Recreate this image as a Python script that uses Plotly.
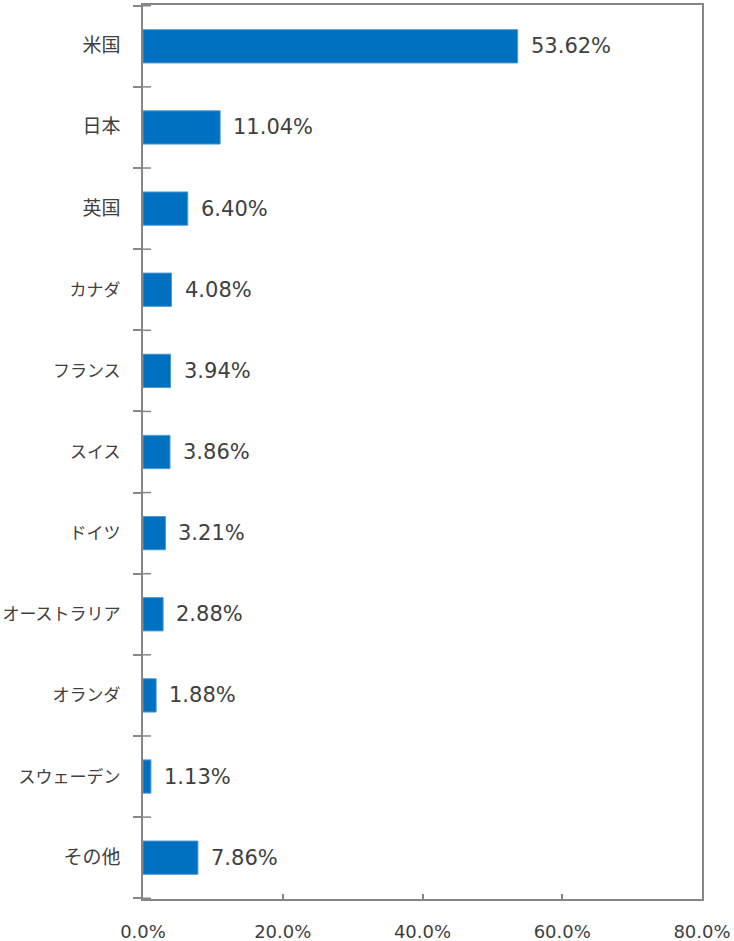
import plotly.graph_objects as go

# Country allocation (% of portfolio)
countries = ["米国", "日本", "英国", "カナダ", "フランス", "スイス", "ドイツ",
             "オーストラリア", "オランダ", "スウェーデン", "その他"]
weights = [53.62, 11.04, 6.40, 4.08, 3.94, 3.86, 3.21, 2.88, 1.88, 1.13, 7.86]
x_ticks = [0, 20, 40, 60, 80]
x_tick_labels = ["0.0%", "20.0%", "40.0%", "60.0%", "80.0%"]

AXIS = "#868686"
TEXT = "#404040"
BAR = "#0070C0"


def tick_label(name):
    # kanji names are set a little larger than the katakana ones
    if any("\u4e00" <= ch <= "\u9fff" for ch in name):
        return f'<span style="font-size:19px">{name}</span>'
    return name


fig = go.Figure(go.Bar(
    x=weights,
    y=countries,
    orientation="h",
    marker=dict(color=BAR, line=dict(color="#4a98d6", width=1)),
    width=0.41,
    hoverinfo="skip",
))

# value labels to the right of each bar
for c, v in zip(countries, weights):
    fig.add_annotation(
        x=v, y=c, text=f"{v:.2f}%", showarrow=False,
        xanchor="left", yanchor="middle", xshift=11,
        font=dict(family="DejaVu Sans", size=21, color=TEXT),
    )

# inner half of the category boundary ticks (ticks cross the axis line)
for i in range(len(countries) + 1):
    fig.add_shape(
        type="line", xref="x", yref="y",
        x0=0, x1=1.15, y0=i - 0.5, y1=i - 0.5,
        line=dict(color=AXIS, width=1.5), layer="above",
    )

fig.update_layout(
    width=734, height=941,
    margin=dict(l=143, r=32, t=5, b=42),
    paper_bgcolor="white", plot_bgcolor="white",
    showlegend=False,
    xaxis=dict(
        range=[0, 80], tickvals=x_ticks, ticktext=x_tick_labels,
        showgrid=False, zeroline=False, automargin=False,
        showline=True, linecolor=AXIS, linewidth=2, mirror=True,
        ticks="inside", ticklen=5, tickcolor=AXIS, tickwidth=1.5,
        tickfont=dict(family="DejaVu Sans", size=18, color=TEXT),
        ticklabelstandoff=15,
    ),
    yaxis=dict(
        autorange="reversed", showgrid=False, zeroline=False, automargin=False,
        tickmode="array", tickvals=countries,
        ticktext=[tick_label(c) for c in countries],
        showline=True, linecolor=AXIS, linewidth=2, mirror=True,
        ticks="outside", ticklen=8, tickcolor=AXIS, tickwidth=1.5,
        tickson="boundaries",
        tickfont=dict(family="Noto Sans CJK JP", size=17, color=TEXT),
        ticklabelstandoff=17,
    ),
)

fig.write_html("out.html")
